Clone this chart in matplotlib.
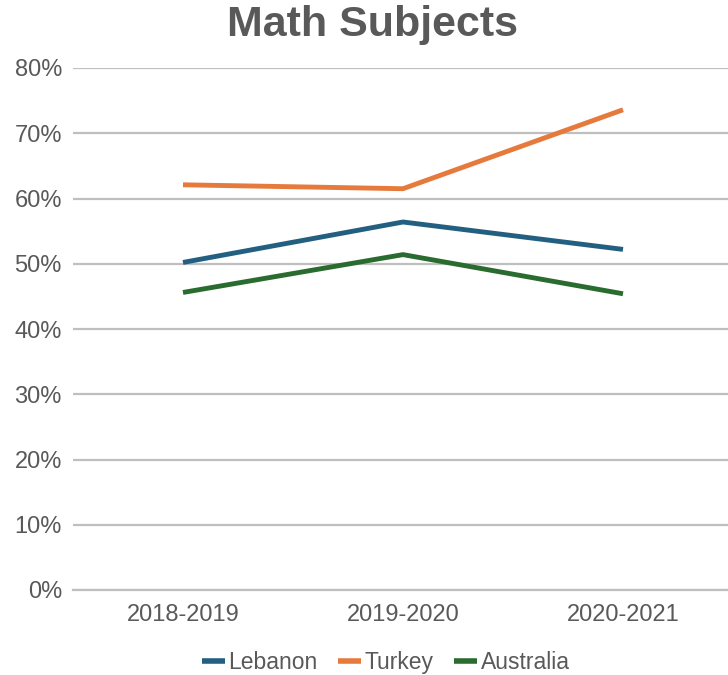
import matplotlib.pyplot as plt
from matplotlib.ticker import PercentFormatter

plt.rcParams['font.family'] = ['Liberation Sans', 'DejaVu Sans']

years = ["2018-2019", "2019-2020", "2020-2021"]
lebanon = [0.502, 0.564, 0.522]
turkey = [0.621, 0.615, 0.736]
australia = [0.456, 0.514, 0.454]

series = [
    ("Lebanon", lebanon, "#225F80"),
    ("Turkey", turkey, "#E67A3C"),
    ("Australia", australia, "#2A6B2F"),
]

grey = "#595959"

fig = plt.figure(figsize=(7.28, 6.75), dpi=100)
ax = fig.add_axes([73 / 728, 85 / 675, 660 / 728, 522 / 675])

x = range(len(years))
for name, vals, col in series:
    ax.plot(x, vals, color=col, lw=3.5, label=name, solid_capstyle="butt")

ax.set_xlim(-0.5, 2.5)
ax.set_ylim(0, 0.8)
ax.set_yticks([i / 10 for i in range(9)])
ax.yaxis.set_major_formatter(PercentFormatter(1.0, decimals=0))
ax.set_xticks(list(x))
ax.set_xticklabels(years)

ax.grid(axis="y", color="#BFBFBF", lw=1.6)
ax.set_axisbelow(True)
for s in ["top", "right", "left"]:
    ax.spines[s].set_visible(False)
ax.spines["bottom"].set_color("#BFBFBF")
ax.spines["bottom"].set_linewidth(1.6)
ax.tick_params(length=0, labelsize=17, colors=grey)
ax.tick_params(axis="y", pad=8)
ax.tick_params(axis="x", pad=10)

fig.text(0.512, 0.963, "Math Subjects", ha="center", va="center",
         fontsize=31, fontweight="bold", color=grey)

leg = fig.legend(loc="center", bbox_to_anchor=(0.53, 0.018), ncol=3,
                 frameon=False, fontsize=16.5, handlelength=1.0,
                 handletextpad=0.15, columnspacing=0.9)
for t in leg.get_texts():
    t.set_color(grey)
for h in leg.get_lines():
    h.set_linewidth(4)

fig.savefig("out.png", dpi=100)
